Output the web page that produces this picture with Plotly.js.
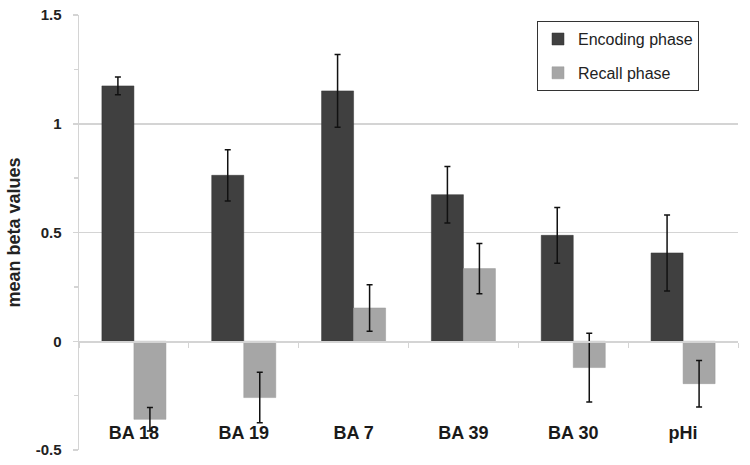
<!DOCTYPE html>
<html>
<head>
<meta charset="utf-8">
<script src="https://cdn.plot.ly/plotly-3.0.1.min.js"></script>
<style>html,body{margin:0;padding:0;background:#fff;}#chart{width:750px;height:465px;}</style>
</head>
<body>
<div id="chart"></div>
<script>
const categories = ["BA 18", "BA 19", "BA 7", "BA 39", "BA 30", "pHi"];
const encodingValues = [1.174, 0.763, 1.151, 0.674, 0.487, 0.406];
const encodingErrors = [0.041, 0.118, 0.167, 0.130, 0.128, 0.175];
const recallValues = [-0.359, -0.259, 0.153, 0.334, -0.121, -0.195];
const recallErrors = [0.054, 0.116, 0.107, 0.116, 0.158, 0.107];
const seriesNames = ["Encoding phase", "Recall phase"];
const yTickVals = [-0.5, 0, 0.5, 1, 1.5];
const yTickText = ["-0.5", "0", "0.5", "1", "1.5"];

const FONT = "Liberation Sans, Arial, sans-serif";
const GRID = "#d4d4d4";

const errStyle = {type: "data", visible: true, color: "#111", thickness: 1.5, width: 3};

const traces = [
  {
    type: "bar", name: seriesNames[0], x: categories, y: encodingValues,
    marker: {color: "#404040", line: {color: "#333", width: 0.5}},
    error_y: Object.assign({array: encodingErrors}, errStyle),
    legendgroup: "a", hoverinfo: "x+y"
  },
  {
    type: "bar", name: seriesNames[1], x: categories, y: recallValues,
    marker: {color: "#a6a6a6", line: {color: "#999", width: 0.5}},
    error_y: Object.assign({array: recallErrors}, errStyle),
    legendgroup: "b", hoverinfo: "x+y"
  },
  {
    // carrier for the zero-line category axis (draws nothing)
    type: "scatter", mode: "none", x: categories, y: encodingValues,
    xaxis: "x2", yaxis: "y", showlegend: false, hoverinfo: "skip"
  }
];

const layout = {
  width: 750, height: 465,
  margin: {l: 79, r: 12, t: 15, b: 15},
  paper_bgcolor: "#fff", plot_bgcolor: "#fff",
  barmode: "group", bargap: 0.417, bargroupgap: 0,
  font: {family: FONT, color: "#222"},
  showlegend: true,
  legend: {
    x: 0.695, y: 0.986, xanchor: "left", yanchor: "top",
    bgcolor: "#fff", bordercolor: "#333", borderwidth: 1,
    font: {family: FONT, size: 16, color: "#222"},
    tracegroupgap: 10, traceorder: "grouped"
  },
  xaxis: {
    type: "category", categoryarray: categories,
    anchor: "free", position: 0.07,
    showline: false, ticks: "",
    tickfont: {family: FONT, size: 18, color: "#1a1a1a", weight: "bold"},
    showgrid: false, zeroline: false, fixedrange: true
  },
  xaxis2: {
    type: "category", categoryarray: categories,
    overlaying: "x", anchor: "free", position: 0.25,
    range: [-0.5, categories.length - 0.5],
    showline: true, linecolor: GRID, linewidth: 1.5,
    ticks: "outside", tickson: "boundaries", ticklen: 5, tickcolor: GRID, tickwidth: 1,
    showticklabels: false, showgrid: false, zeroline: false, fixedrange: true
  },
  yaxis: {
    range: [-0.5, 1.5], tickvals: yTickVals, ticktext: yTickText,
    showgrid: true, gridcolor: GRID, gridwidth: 1.5,
    zeroline: false,
    showline: true, linecolor: GRID, linewidth: 1.5,
    ticks: "outside", ticklen: 5, tickcolor: GRID, tickwidth: 1.5,
    minor: {dtick: 0.25, tick0: 0, ticks: "outside", ticklen: 4, tickcolor: GRID, showgrid: false},
    tickfont: {family: FONT, size: 15, color: "#222", weight: "bold"},
    ticklabelstandoff: 8,
    title: {text: "mean beta values", font: {family: FONT, size: 18, color: "#222", weight: "bold"}, standoff: 10},
    fixedrange: true
  }
};

Plotly.newPlot("chart", traces, layout, {displayModeBar: false, staticPlot: true});
</script>
</body>
</html>
